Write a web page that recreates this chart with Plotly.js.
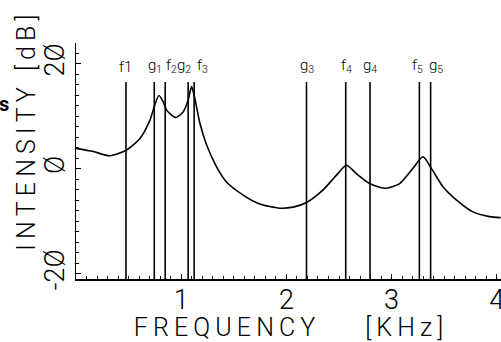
<!DOCTYPE html>
<html>
<head>
<meta charset="utf-8">
<script src="https://cdn.plot.ly/plotly-3.0.1.min.js"></script>
<style>html,body{margin:0;padding:0;background:#fff;}#chart{width:501px;height:342px;}</style>
</head>
<body>
<div id="chart"></div>
<script>
// Spectrum curve (frequency in kHz, intensity in dB)
var freq = [0.000, 0.164, 0.323, 0.481, 0.608, 0.703, 0.744, 0.788, 0.829, 0.861, 0.950, 1.019, 1.066, 1.099, 1.130, 1.178, 1.241, 1.336, 1.431, 1.589, 1.747, 1.937, 2.064, 2.191, 2.349, 2.476, 2.571, 2.666, 2.792, 2.934, 3.077, 3.203, 3.298, 3.378, 3.488, 3.615, 3.773, 3.932, 4.036];
var intensity = [3.9, 3.3, 2.5, 3.6, 5.8, 9.3, 11.9, 14.0, 12.8, 11.2, 9.8, 10.9, 13.1, 15.7, 13.4, 8.7, 4.6, 0.4, -2.5, -5.0, -6.7, -7.5, -7.3, -6.4, -4.0, -1.2, 0.7, -0.9, -2.8, -3.7, -2.8, 0.1, 2.3, 0.1, -3.4, -5.9, -8.2, -9.1, -9.3];

// Marker lines (formants f, other frequencies g)
var markerNames = ["f1", "g<sub>1</sub>", "f<sub>2</sub>", "g<sub>2</sub>", "f<sub>3</sub>", "g<sub>3</sub>", "f<sub>4</sub>", "g<sub>4</sub>", "f<sub>5</sub>", "g<sub>5</sub>"];
var markerFreq = [0.475, 0.744, 0.848, 1.066, 1.123, 2.191, 2.564, 2.795, 3.264, 3.371];
var markerLabelShift = [0, 1, 6, -4, 8, 1, 1, 0, -2, 5];

// Axis ticks
var xTickVals = [1, 2, 3, 4];
var xTickText = ["1", "2", "3", "4"];
var yTickVals = [-20, 0, 20];
var yTickText = ["-2Ø", "Ø", "2Ø"];

var xTitle = "FREQUENCY    [KHz]";
var yTitle = "INTENSITY [dB]";

var yMin = -21, yMax = 24, lineTop = 16.56;
var FONT = "Roboto, 'Liberation Sans', sans-serif";

function spaced(s) { return s.split("").join("\u2009"); }

var lx = [], ly = [];
markerFreq.forEach(function (f) { lx.push(f, f, null); ly.push(yMin, lineTop, null); });

var traces = [
  {x: lx, y: ly, type: "scatter", mode: "lines", line: {color: "#000", width: 1.6}, hoverinfo: "skip", showlegend: false},
  {x: freq, y: intensity, type: "scatter", mode: "lines", line: {color: "#000", width: 1.6, shape: "spline", smoothing: 0.7}, showlegend: false}
];

var annotations = markerNames.map(function (n, i) {
  return {x: markerFreq[i], y: lineTop, xref: "x", yref: "y", text: n, showarrow: false,
    yanchor: "bottom", yshift: 4, xshift: markerLabelShift[i],
    font: {family: FONT, size: 15, color: "#000", weight: 300}};
});
annotations.push({xref: "paper", yref: "paper", x: -0.118, y: 0.5 + 28 / 236, text: spaced(yTitle),
  textangle: -90, showarrow: false, xanchor: "center", yanchor: "middle",
  font: {family: FONT, size: 25, color: "#000", weight: 300}});
annotations.push({xref: "paper", yref: "paper", x: -0.17, y: 0.74, text: "<b>s</b>", showarrow: false,
  xanchor: "center", yanchor: "middle", font: {family: FONT, size: 20, color: "#000"}});

var layout = {
  width: 501, height: 342,
  margin: {l: 76, r: 0, t: 43, b: 63},
  paper_bgcolor: "#fff", plot_bgcolor: "#fff",
  xaxis: {
    range: [0, 4.04], showgrid: false, zeroline: false,
    showline: true, linecolor: "#000", linewidth: 1.5,
    tickmode: "array", tickvals: xTickVals, ticktext: xTickText,
    ticks: "inside", ticklen: 5, tickcolor: "#000", ticklabelstandoff: -4,
    ticklabeloverflow: "allow",
    minor: {dtick: 0.1, ticks: "inside", ticklen: 3, tickcolor: "#000", showgrid: false},
    tickfont: {family: FONT, size: 27, color: "#000", weight: 300},
    title: {text: spaced(xTitle), standoff: 8, font: {family: FONT, size: 25, color: "#000", weight: 300}}
  },
  yaxis: {
    range: [yMin, yMax], showgrid: false, zeroline: false,
    showline: true, linecolor: "#000", linewidth: 1.5,
    tickmode: "array", tickvals: yTickVals, ticktext: yTickText, tickangle: -90,
    ticks: "inside", ticklen: 5, tickcolor: "#000",
    minor: {dtick: 2, ticks: "inside", ticklen: 3, tickcolor: "#000", showgrid: false},
    tickfont: {family: FONT, size: 27, color: "#000", weight: 300}
  },
  annotations: annotations
};

Plotly.newPlot("chart", traces, layout, {staticPlot: true, displayModeBar: false});
</script>
</body>
</html>
